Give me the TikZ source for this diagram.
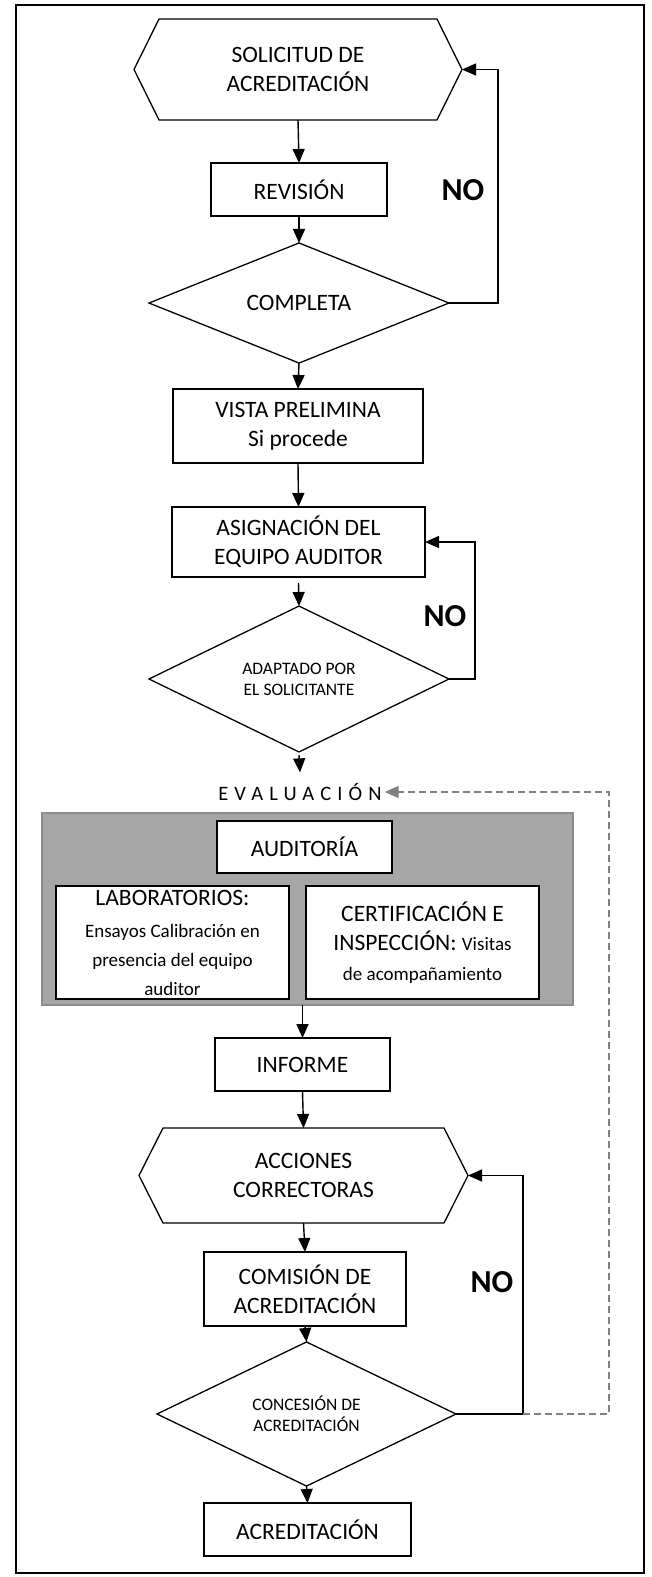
\documentclass[tikz,border=0pt]{standalone}
\usepackage{fontspec}
\setmainfont{Carlito}
\usetikzlibrary{shapes.geometric,arrows.meta}
\definecolor{grpfill}{HTML}{A6A6A6}
\definecolor{grpline}{HTML}{8C8C8C}
\definecolor{dashcol}{HTML}{808080}
\newcommand{\smallf}{\fontsize{19}{23}\selectfont}
\begin{document}
\begin{tikzpicture}[x=1pt,y=-1pt,
  every node/.style={outer sep=0pt, inner sep=0pt},
  mainfont/.style={font=\fontsize{23.5}{29}\selectfont},
  box/.style={draw, line width=1.4pt, rectangle, align=center, fill=white, mainfont},
  hexnode/.style={rectangle, align=center, mainfont},
  hexline/.style={line width=1.3pt},
  dia/.style={draw, line width=1.3pt, diamond, align=center},
  smalldia/.style={font=\fontsize{17.5}{21}\selectfont},
  tip/.style={-{Triangle[length=14pt,width=12pt]}},
  arr/.style={line width=1.4pt, tip},
  fb/.style={line width=1.4pt, tip},
  dfb/.style={line width=1.5pt, draw=dashcol, dash pattern=on 7pt off 4pt, tip, dashcol},
  nolbl/.style={font=\fontsize{32}{32}\selectfont\bfseries},
]
\useasboundingbox (0,0) rectangle (651,1577);
\draw[line width=1.6pt] (16,5) rectangle (644,1573);

% ---------- top part ----------
\node[hexnode, minimum width=328, minimum height=101] (hex1) at (298,69.5) {SOLICITUD DE\\ACREDITACIÓN};
\draw[hexline] ([xshift=25pt]hex1.north west) -- ([xshift=-25pt]hex1.north east) -- (hex1.east)
  -- ([xshift=-25pt]hex1.south east) -- ([xshift=25pt]hex1.south west) -- (hex1.west) -- cycle;

\node[box, minimum width=176, minimum height=53] (rev) at (299,189.5) {REVISIÓN};
\node[dia, mainfont, minimum width=300, minimum height=108] (d1) at (299,303) {COMPLETA};
\node[box, minimum width=250, minimum height=74] (vista) at (298,426) {VISTA PRELIMINA\\Si procede};
\node[box, minimum width=253, minimum height=70] (asig) at (298.5,542) {ASIGNACIÓN DEL\\EQUIPO AUDITOR};
\node[dia, smalldia, minimum width=300, minimum height=114] (d2) at (299,679) {ADAPTADO POR\\EL SOLICITANTE};
\node[font=\fontsize{20.5}{20}\selectfont\addfontfeature{LetterSpace=30}, inner ysep=11pt, inner xsep=3pt] (eval) at (300,792) {EVALUACIÓN};

\node[nolbl] (no1) at (463,190) {NO};
\node[nolbl] (no2) at (445,616) {NO};
\node[nolbl] (no3) at (492,1282) {NO};

% ---------- evaluation group ----------
\node[fill=grpfill, draw=grpline, line width=1.5pt, minimum width=531, minimum height=192] (grp) at (307.5,909) {};
\node[box, minimum width=175, minimum height=52] (aud) at (304.5,847) {AUDITORÍA};
\node[box, minimum width=233, minimum height=113] (lab) at (172.5,942.5)
  {LABORATORIOS:\\[3pt]\smallf Ensayos Calibración en\\\smallf presencia del equipo\\\smallf auditor};
\node[box, minimum width=233, minimum height=113] (cert) at (422.5,942.5)
  {CERTIFICACIÓN E\\INSPECCIÓN: {\smallf Visitas}\\[1pt]\smallf de acompañamiento};

% ---------- lower part ----------
\node[box, minimum width=175, minimum height=53] (inf) at (302.5,1064.5) {INFORME};
\node[hexnode, minimum width=329, minimum height=95] (hex2) at (303.5,1175.5) {ACCIONES\\CORRECTORAS};
\draw[hexline] ([xshift=24pt]hex2.north west) -- ([xshift=-24pt]hex2.north east) -- (hex2.east)
  -- ([xshift=-24pt]hex2.south east) -- ([xshift=24pt]hex2.south west) -- (hex2.west) -- cycle;
\node[box, minimum width=202, minimum height=74] (com) at (305,1289) {COMISIÓN DE\\ACREDITACIÓN};
\node[dia, smalldia, minimum width=299, minimum height=114] (d3) at (306.5,1414) {CONCESIÓN DE\\ACREDITACIÓN};
\node[box, minimum width=207, minimum height=53] (acr) at (307.5,1529.5) {ACREDITACIÓN};

% ---------- main flow ----------
\draw[arr] (hex1.south) -- (rev.north);
\draw[arr] (rev.south) -- (d1.north);
\draw[arr] (d1.south) -- (vista.north);
\draw[arr] (vista.south) -- (asig.north);
\draw[arr] ([yshift=-6pt]asig.south) -- (d2.north);
\draw[arr] ([yshift=-3pt]d2.south) -- (eval.north);
\draw[arr] (grp.south -| inf.north) -- (inf.north);
\draw[arr] (inf.south) -- (hex2.north);
\draw[arr] (hex2.south) -- (com.north);
\draw[arr] (com.south) -- (d3.north);
\draw[arr] (d3.south) -- (acr.north);

% ---------- feedback loops ----------
\coordinate (k1) at (498,303);
\coordinate (k2) at (475,679);
\coordinate (k3) at (523,1414);
\coordinate (k4) at (609,1414);
\draw[fb] (d1.east) -- (k1) |- (hex1.east);
\draw[fb] (d2.east) -- (k2) |- (asig.east);
\draw[fb] (d3.east) -- (k3) |- (hex2.east);
\draw[dfb] (k3) -- (k4) |- (eval.east);
\end{tikzpicture}
\end{document}
